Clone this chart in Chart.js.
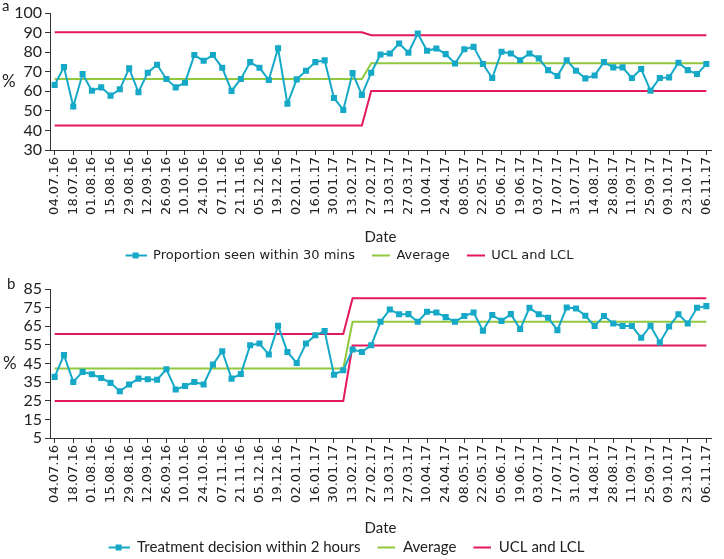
<!DOCTYPE html>
<html><head><meta charset="utf-8">
<script src="https://cdn.jsdelivr.net/npm/chart.js@4.4.0/dist/chart.umd.min.js"></script>
<style>
html,body{margin:0;padding:0;background:#fff;}
#wrap{position:relative;width:724px;height:559px;overflow:hidden;}
#ca{position:absolute;left:0;top:0;}
#cb{position:absolute;left:0;top:270px;}
</style></head><body>
<div id="wrap"><canvas id="ca" width="724" height="270"></canvas><canvas id="cb" width="724" height="289"></canvas></div>
<script>
// ---- categories (weekly) ----
const weeks = ['04.07.16','11.07.16','18.07.16','25.07.16','01.08.16','08.08.16','15.08.16','22.08.16','29.08.16','05.09.16',
'12.09.16','19.09.16','26.09.16','03.10.16','10.10.16','17.10.16','24.10.16','31.10.16','07.11.16','14.11.16',
'21.11.16','28.11.16','05.12.16','12.12.16','19.12.16','26.12.16','02.01.17','09.01.17','16.01.17','23.01.17',
'30.01.17','06.02.17','13.02.17','20.02.17','27.02.17','06.03.17','13.03.17','20.03.17','27.03.17','03.04.17',
'10.04.17','17.04.17','24.04.17','01.05.17','08.05.17','15.05.17','22.05.17','29.05.17','05.06.17','12.06.17',
'19.06.17','26.06.17','03.07.17','10.07.17','17.07.17','24.07.17','31.07.17','07.08.17','14.08.17','21.08.17',
'28.08.17','04.09.17','11.09.17','18.09.17','25.09.17','02.10.17','09.10.17','16.10.17','23.10.17','30.10.17','06.11.17'];

// ---- panel a: proportion seen within 30 mins (%) ----
const seen30 = [63.2,72.4,52.2,68.8,60.3,62.0,57.8,61.0,71.7,59.5,
69.5,73.6,66.3,62.0,64.4,78.5,75.6,78.5,72.0,60.2,
66.3,74.9,72.0,65.8,82.0,53.6,66.1,70.5,74.9,75.8,
56.6,50.5,69.3,58.1,69.5,78.8,79.3,84.4,79.7,89.5,
80.7,81.9,79.0,74.2,81.5,82.7,73.9,66.8,80.2,79.3,
75.9,79.3,76.8,70.8,67.8,75.9,70.5,66.6,68.1,74.9,
72.2,72.2,66.8,71.4,60.3,66.8,67.1,74.6,70.8,68.8,73.9];
// control chart phases (first index of each phase) and their values
const phaseStartA = [0, 34];
const avgPhaseA = [66.3, 74.3];
const uclPhaseA = [90.2, 88.6];
const lclPhaseA = [42.5, 60.2];
const yTicksA = [30,40,50,60,70,80,90,100];

// ---- panel b: treatment decision within 2 hours (%) ----
const decision2h = [37.8,49.5,35.1,40.5,39.2,37.2,34.6,30.1,33.7,36.9,
36.5,36.3,41.9,31.0,32.9,35.1,33.7,44.4,51.6,36.9,
39.4,54.8,55.7,49.8,65.3,51.2,45.3,55.7,60.2,62.4,
39.0,41.4,52.5,51.2,54.8,67.4,74.0,71.4,71.5,67.4,
72.8,72.4,69.9,67.4,70.5,72.4,62.6,71.0,67.9,71.5,
63.5,74.9,71.4,69.6,62.9,75.1,74.5,70.6,65.1,70.5,
66.5,65.1,65.1,58.8,65.3,56.3,64.9,71.4,66.5,74.9,75.8];
const phaseStartB = [0, 32];
const avgPhaseB = [42.3, 67.4];
const uclPhaseB = [60.9, 80.0];
const lclPhaseB = [24.9, 54.6];
const yTicksB = [5,15,25,35,45,55,65,75,85];

// ---- styling ----
const CYAN = '#16A9C7', GREEN = '#92C83E', PINK = '#E2195C', TXT = '#222';

function expandPhases(starts, vals, n){
  const out = [];
  for (let i = 0; i < n; i++){
    let p = 0;
    for (let k = 0; k < starts.length; k++) if (i >= starts[k]) p = k;
    out.push(vals[p]);
  }
  return out;
}

function icon(kind){
  const c = document.createElement('canvas');
  c.width = 32; c.height = 10;
  const g = c.getContext('2d');
  g.lineWidth = 2;
  if (kind === 'series'){
    g.strokeStyle = CYAN; g.beginPath(); g.moveTo(11,5); g.lineTo(32,5); g.stroke();
    g.fillStyle = CYAN; g.fillRect(18,2,6,6);
  } else {
    g.strokeStyle = kind === 'avg' ? GREEN : PINK;
    g.beginPath(); g.moveTo(14,5); g.lineTo(32,5); g.stroke();
  }
  return c;
}
const icons = [icon('series'), icon('avg'), icon('ucl'), icon('ucl')];

const annot = {
  id: 'annot',
  afterLayout(chart, args, opts){
    if (chart.legend){ chart.legend.left += opts.legendDx; chart.legend.right += opts.legendDx; }
  },
  afterDraw(chart, args, opts){
    const ctx = chart.ctx;
    ctx.save();
    ctx.fillStyle = TXT;
    ctx.textBaseline = 'middle';
    ctx.textAlign = 'left';
    ctx.font = '15px Lato';
    ctx.fillText(opts.letter, opts.lx, opts.ly);
    ctx.font = '17px Lato';
    ctx.fillText('%', opts.px, (chart.chartArea.top + chart.chartArea.bottom) / 2);
    ctx.restore();
  }
};

function makeChart(id, cfg){
  const n = weeks.length;
  const ds = [
    {label: cfg.seriesLabel, data: cfg.values, borderColor: CYAN, backgroundColor: CYAN,
     borderWidth: 2, pointStyle: 'rect', pointRadius: 4.3, pointBorderWidth: 0,
     pointBackgroundColor: CYAN, tension: 0, order: 0},
    {label: 'Average', data: expandPhases(cfg.starts, cfg.avg, n), borderColor: GREEN,
     borderWidth: 2, pointRadius: 0, tension: 0, order: 1},
    {label: 'UCL and LCL', data: expandPhases(cfg.starts, cfg.ucl, n), borderColor: PINK,
     borderWidth: 2, pointRadius: 0, tension: 0, order: 2},
    {label: 'LCL', data: expandPhases(cfg.starts, cfg.lcl, n), borderColor: PINK,
     borderWidth: 2, pointRadius: 0, tension: 0, order: 3}
  ];
  return new Chart(document.getElementById(id), {
    type: 'line',
    data: {labels: weeks, datasets: ds},
    options: {
      responsive: false, animation: false, events: [],
      layout: {padding: {top: cfg.padTop, right: 6, bottom: 0, left: 0}},
      plugins: {
        tooltip: {enabled: false},
        legend: {
          position: 'bottom', maxHeight: cfg.legH,
          labels: {
            usePointStyle: true, pointStyleWidth: 32, padding: 3, color: TXT,
            font: {family: cfg.legFont, size: cfg.legSize},
            filter: item => item.datasetIndex !== 3,
            generateLabels(chart){
              const items = Chart.defaults.plugins.legend.labels.generateLabels(chart);
              items.forEach(it => { it.pointStyle = icons[it.datasetIndex]; });
              return items;
            }
          }
        },
        annot: cfg.annot
      },
      scales: {
        x: {
          type: 'category', offset: true,
          afterFit: s => { s.height = cfg.xH; },
          grid: {drawOnChartArea: false, tickLength: 5,
                 tickColor: c => (c.index % 2 === 0 ? '#333' : 'rgba(0,0,0,0)')},
          border: {color: '#333', width: 1},
          ticks: {autoSkip: false, minRotation: 90, maxRotation: 90, padding: 2, color: TXT,
                  font: {family: 'DejaVu Sans', size: 13},
                  callback: (v, i) => (i % 2 === 0 ? weeks[i] : '')},
          title: {display: true, text: 'Date', color: TXT, padding: 0,
                  font: {family: 'Lato', size: 15}}
        },
        y: {
          min: cfg.yTicks[0], max: cfg.yTicks[cfg.yTicks.length - 1],
          afterFit: s => { s.width = 50; },
          afterBuildTicks: s => { s.ticks = cfg.yTicks.map(v => ({value: v})); },
          grid: {drawOnChartArea: false, tickLength: 5, tickColor: '#333'},
          border: {color: '#333', width: 1},
          ticks: {autoSkip: false, color: TXT, padding: 3, font: {family: 'Lato', size: 16}}
        }
      }
    },
    plugins: [annot]
  });
}

makeChart('ca', {
  seriesLabel: 'Proportion seen within 30 mins', values: seen30,
  starts: phaseStartA, avg: avgPhaseA, ucl: uclPhaseA, lcl: lclPhaseA,
  yTicks: yTicksA, padTop: 13, xH: 96, legH: 24, legFont: 'DejaVu Sans', legSize: 13,
  annot: {letter: 'a', lx: 2, ly: 6, px: 2, legendDx: -15}
});
makeChart('cb', {
  seriesLabel: 'Treatment decision within 2 hours', values: decision2h,
  starts: phaseStartB, avg: avgPhaseB, ucl: uclPhaseB, lcl: lclPhaseB,
  yTicks: yTicksB, padTop: 19, xH: 99, legH: 22, legFont: 'Lato', legSize: 15,
  annot: {letter: 'b', lx: 7, ly: 14, px: 3, legendDx: -18}
});
</script>
</body></html>
